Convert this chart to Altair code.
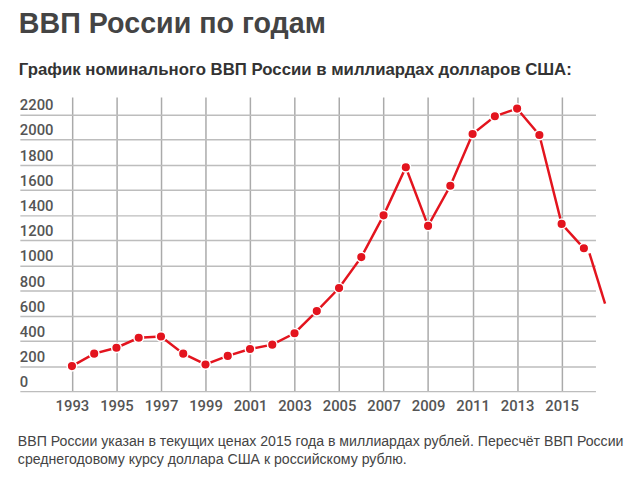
import pandas as pd
import altair as alt

# GDP of Russia, billions of US dollars
years = list(range(1993, 2017))
gdp = [199, 298, 345, 424, 434, 298, 212, 280, 335, 369, 460, 636,
       819, 1065, 1397, 1779, 1313, 1632, 2043, 2184, 2245, 2035, 1329, 1135]

# the hand-drawn tail after the last dot
tail_years = [2016.25, 2016.95]
tail_gdp = [1095, 696]

y_ticks = list(range(0, 2201, 200))
x_ticks = list(range(1993, 2016, 2))

note_lines = [
    "ВВП России указан в текущих ценах 2015 года в миллиардах рублей. Пересчёт ВВП России",
    "среднегодовому курсу доллара США к российскому рублю.",
]

RED = "#e3141e"
LABEL_GREY = "#555555"


def main():
    df = pd.DataFrame({"year": years, "gdp": gdp})
    tail = pd.DataFrame({"year": tail_years, "gdp": tail_gdp})
    tick_df = pd.DataFrame({"gdp": y_ticks, "label": [str(v) for v in y_ticks]})
    note_df = pd.DataFrame({"note": ["\n".join(note_lines)]})

    x_scale = alt.Scale(domain=[1990.66, 2016.52], nice=False, zero=False)
    y_scale = alt.Scale(domain=[0, 2338], nice=False)

    x_axis = alt.Axis(values=x_ticks, format="d", title=None, grid=True,
                      gridColor="#aaaaaa", gridWidth=1.5, domain=False, ticks=False,
                      labelFont="Roboto", labelFontSize=15, labelFontWeight=500,
                      labelColor=LABEL_GREY, labelPadding=8)
    y_axis = alt.Axis(values=y_ticks, title=None, grid=True, gridColor="#bdbdbd",
                      gridWidth=1.5, labels=False, domain=False, ticks=False)

    x_enc = alt.X("year:Q", scale=x_scale, axis=x_axis)
    y_enc = alt.Y("gdp:Q", scale=y_scale, axis=y_axis)

    base = alt.Chart(df).encode(x=x_enc, y=y_enc)
    line = base.mark_line(color=RED, strokeWidth=2.5)
    dots = base.mark_circle(color=RED, stroke="white", strokeWidth=1.5, size=95, opacity=1)

    tail_line = alt.Chart(tail).mark_line(color=RED, strokeWidth=2.5).encode(x=x_enc, y=y_enc)

    # y labels sit on top of the grid lines, inside the plot
    y_labels = alt.Chart(tick_df).mark_text(
        align="left", baseline="alphabetic", dy=-4,
        font="Roboto", fontSize=15, fontWeight=500, color=LABEL_GREY
    ).encode(
        x=alt.value(0),
        y=y_enc,
        text="label:N",
    )

    note = alt.Chart(note_df).mark_text(
        align="left", baseline="alphabetic", lineBreak="\n", lineHeight=18,
        font="Liberation Sans", fontSize=14.3, color="#444444"
    ).encode(
        x=alt.value(-2),
        y=alt.value(354),
        text="note:N",
    )

    chart = (line + tail_line + dots + y_labels + note).properties(
        width=583,
        height=298,
        title=alt.TitleParams(
            text="ВВП России по годам",
            subtitle="График номинального ВВП России в миллиардах долларов США:",
            anchor="start", frame="group", dx=-1, offset=19,
            font="Liberation Sans", fontSize=29, fontWeight="bold", color="#444444",
            subtitleFont="Liberation Sans", subtitleFontSize=17,
            subtitleFontWeight="bold", subtitleColor="#333333", subtitlePadding=24,
        ),
        autosize=alt.AutoSizeParams(type="none"),
        padding={"left": 12, "top": 87, "right": 37, "bottom": 90},
    ).configure_view(stroke=None)

    chart.save("out.html", embed_options={"renderer": "svg", "actions": False})


if __name__ == "__main__":
    main()
